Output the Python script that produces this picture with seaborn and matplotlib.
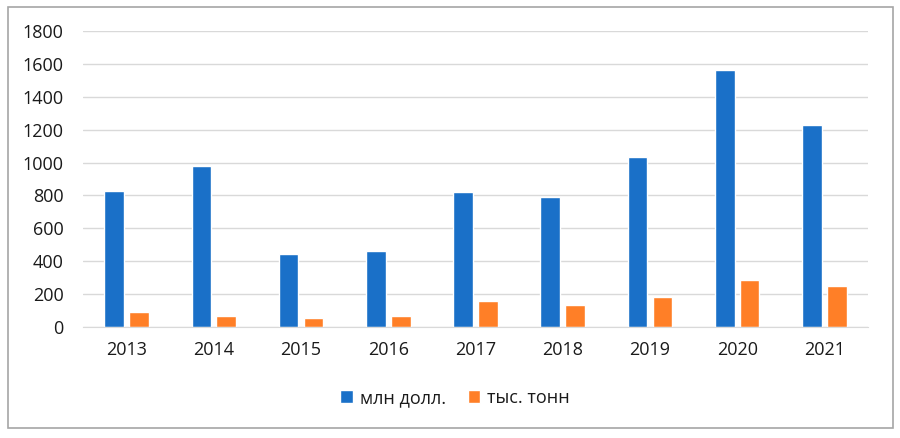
import numpy as np
import pandas as pd
import matplotlib
matplotlib.use("Agg")
import matplotlib.pyplot as plt
import seaborn as sns
from matplotlib.patches import Rectangle, Patch

years = ["2013", "2014", "2015", "2016", "2017", "2018", "2019", "2020", "2021"]
usd_mln = [824, 978, 446, 460, 818, 791, 1032, 1560, 1228]
tons_k = [92, 64, 54, 68, 160, 133, 180, 285, 250]
series_names = ["млн долл.", "тыс. тонн"]
y_ticks = [0, 200, 400, 600, 800, 1000, 1200, 1400, 1600, 1800]

blue = "#1A70C8"
orange = "#FF7F27"

df = pd.DataFrame({
    "year": years * 2,
    "value": usd_mln + tons_k,
    "series": [series_names[0]] * len(years) + [series_names[1]] * len(years),
})

sns.set_style("white")
plt.rcParams["font.family"] = ["Open Sans", "DejaVu Sans"]

W, H = 900, 438
fig = plt.figure(figsize=(W / 100, H / 100), dpi=100)
ax = fig.add_axes([83 / W, (H - 327) / H, (868 - 83) / W, (327 - 31) / H])

sns.barplot(data=df, x="year", y="value", hue="series", ax=ax,
            palette=[blue, orange], width=0.57, gap=0.21,
            saturation=1, legend=False)

ax.set_ylim(0, 1800)
ax.set_yticks(y_ticks)
ax.set_xlim(-0.5, len(years) - 0.5)
ax.yaxis.grid(True, color="#D9D9D9", linewidth=1)
ax.set_axisbelow(True)
for s in ["top", "right", "left"]:
    ax.spines[s].set_visible(False)
ax.spines["bottom"].set_color("#D9D9D9")
ax.tick_params(axis="both", length=0, labelsize=13, colors="#1A1A1A")
ax.tick_params(axis="y", pad=14)
ax.tick_params(axis="x", pad=10)
ax.set_xlabel("")
ax.set_ylabel("")

# outer chart border
fig.patches.append(Rectangle((8 / W, (H - 428) / H), (893 - 8) / W, (428 - 7) / H,
                             transform=fig.transFigure, fill=False,
                             edgecolor="#A6A6A6", linewidth=1.2))

handles = [Patch(facecolor=blue, label=series_names[0]),
           Patch(facecolor=orange, label=series_names[1])]
fig.legend(handles=handles, loc="center", bbox_to_anchor=(455 / W, (H - 398) / H),
           ncol=2, frameon=False, fontsize=13, handlelength=0.7, handleheight=0.7,
           handletextpad=0.4, columnspacing=1.2, labelcolor="#1A1A1A")

fig.savefig("out.png", dpi=100)
